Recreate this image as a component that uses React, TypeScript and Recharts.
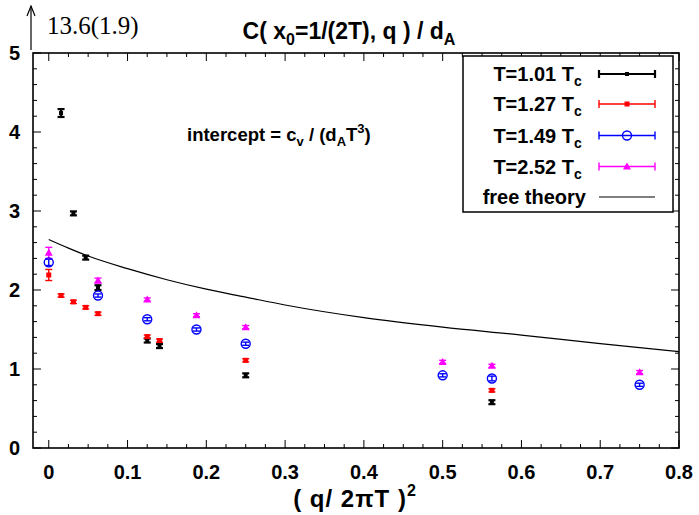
import React from "react"
import { ComposedChart, Scatter, Line, XAxis, YAxis, ErrorBar } from "recharts"

// (q / 2piT)^2 and C/d_A
const xT101 = [0.0156, 0.0313, 0.0469, 0.0625, 0.125, 0.1406, 0.25, 0.5625]
const yT101 = [4.24, 2.97, 2.41, 2.03, 1.36, 1.29, 0.92, 0.58]
const eT101 = [0.05, 0.025, 0.025, 0.03, 0.025, 0.025, 0.025, 0.025]

const xT127 = [0, 0.0156, 0.0313, 0.0469, 0.0625, 0.125, 0.1406, 0.25, 0.5625]
const yT127 = [2.19, 1.93, 1.85, 1.78, 1.7, 1.41, 1.36, 1.11, 0.73]
const eT127 = [0.07, 0.02, 0.02, 0.02, 0.02, 0.02, 0.02, 0.02, 0.02]

const xT149 = [0, 0.0625, 0.125, 0.1875, 0.25, 0.5, 0.5625, 0.75]
const yT149 = [2.35, 1.93, 1.63, 1.5, 1.32, 0.92, 0.88, 0.8]
const eT149 = [0.04, 0.02, 0.02, 0.02, 0.02, 0.02, 0.03, 0.02]

const xT252 = [0, 0.0625, 0.125, 0.1875, 0.25, 0.5, 0.5625, 0.75]
const yT252 = [2.47, 2.12, 1.88, 1.68, 1.53, 1.09, 1.04, 0.96]
const eT252 = [0.07, 0.03, 0.02, 0.02, 0.02, 0.02, 0.02, 0.02]

const xFree = [0, 0.025, 0.05, 0.1, 0.15, 0.2, 0.25, 0.3, 0.4, 0.5, 0.6, 0.7, 0.8]
const yFree = [2.64, 2.53, 2.43, 2.27, 2.13, 2.01, 1.91, 1.81, 1.65, 1.53, 1.43, 1.32, 1.22]

const xMajor = [0, 0.1, 0.2, 0.3, 0.4, 0.5, 0.6, 0.7, 0.8]
const yMajor = [0, 1, 2, 3, 4, 5]
const xMinorStep = 0.025
const yMinorStep = 0.2

const PLOT = { left: 33, right: 679, top: 53, bottom: 448 }
const FONT = "'Liberation Sans', Arial, Helvetica, sans-serif"

const zip = (xs: number[], ys: number[], es?: number[]) =>
  xs.map((x, i) => ({ x, y: ys[i], e: es ? es[i] : 0 }))

const xTicks: number[] = []
for (let v = 0; v <= 0.8 + 1e-9; v += xMinorStep) xTicks.push(+v.toFixed(4))
const yTicks: number[] = []
for (let v = 0; v <= 5 + 1e-9; v += yMinorStep) yTicks.push(+v.toFixed(4))

const isMajor = (v: number, list: number[]) => list.some((m) => Math.abs(m - v) < 1e-6)

// gnuplot style: ticks point inward and are mirrored on the opposite side
const XTick = (p: any) => {
  const v = p.payload.value
  const x = p.x
  const major = isMajor(v, xMajor)
  const len = major ? 8 : 4
  return (
    <g>
      <line x1={x} x2={x} y1={PLOT.bottom} y2={PLOT.bottom - len} stroke="#000" strokeWidth={1} />
      <line x1={x} x2={x} y1={PLOT.top} y2={PLOT.top + len} stroke="#000" strokeWidth={1} />
      {major && (
        <text x={x} y={479} textAnchor="middle" fontFamily={FONT} fontWeight="bold" fontSize={20} fill="#000">
          {v}
        </text>
      )}
    </g>
  )
}

const YTick = (p: any) => {
  const v = p.payload.value
  const y = p.y
  const major = isMajor(v, yMajor)
  const len = major ? 8 : 4
  return (
    <g>
      <line x1={PLOT.left} x2={PLOT.left + len} y1={y} y2={y} stroke="#000" strokeWidth={1} />
      <line x1={PLOT.right} x2={PLOT.right - len} y1={y} y2={y} stroke="#000" strokeWidth={1} />
      {major && (
        <text x={20} y={y + 7} textAnchor="end" fontFamily={FONT} fontWeight="bold" fontSize={20} fill="#000">
          {v}
        </text>
      )}
    </g>
  )
}

type Marker = "smallSquare" | "square" | "circle" | "triangle"

const drawMarker = (kind: Marker, color: string, cx: number, cy: number) => {
  if (kind === "smallSquare") return <rect x={cx - 2} y={cy - 2} width={4} height={4} fill={color} />
  if (kind === "square") return <rect x={cx - 2.5} y={cy - 2.5} width={5} height={5} fill={color} />
  if (kind === "circle") return <circle cx={cx} cy={cy} r={4.5} fill="none" stroke={color} strokeWidth={1.4} />
  return <polygon points={`${cx},${cy - 4} ${cx - 4},${cy + 3} ${cx + 4},${cy + 3}`} fill={color} />
}

const series = [
  { name: "T=1.01 T", color: "#000000", marker: "smallSquare" as Marker, barW: 2.2, data: zip(xT101, yT101, eT101) },
  { name: "T=1.27 T", color: "#ff0000", marker: "square" as Marker, barW: 1.4, data: zip(xT127, yT127, eT127) },
  { name: "T=1.49 T", color: "#0000ff", marker: "circle" as Marker, barW: 1.4, data: zip(xT149, yT149, eT149) },
  { name: "T=2.52 T", color: "#ff00ff", marker: "triangle" as Marker, barW: 1.4, data: zip(xT252, yT252, eT252) },
]

const freeData = zip(xFree, yFree)

const legendRows = [74, 104, 135.5, 166.5]

export default function App() {
  return (
    <div style={{ position: "relative", width: 699, height: 515, background: "#fff" }}>
      <style>{`body{margin:0;background:#fff}`}</style>
      <ComposedChart width={699} height={515} margin={{ top: 53, right: 20, bottom: 0, left: 0 }}>
        <XAxis
          type="number"
          dataKey="x"
          domain={[-0.02, 0.8]}
          allowDataOverflow
          ticks={xTicks}
          interval={0}
          tick={<XTick />}
          tickLine={false}
          axisLine={false}
          height={67}
        />
        <YAxis
          type="number"
          dataKey="y"
          domain={[0, 5]}
          allowDataOverflow
          ticks={yTicks}
          interval={0}
          tick={<YTick />}
          tickLine={false}
          axisLine={false}
          width={33}
        />
        <Line
          data={freeData}
          dataKey="y"
          type="monotone"
          dot={false}
          stroke="#000"
          strokeWidth={1.2}
          isAnimationActive={false}
        />
        {series.map((s) => (
          <Scatter
            key={s.name}
            name={s.name}
            data={s.data}
            dataKey="y"
            isAnimationActive={false}
            shape={(p: any) => drawMarker(s.marker, s.color, p.cx, p.cy)}
          >
            <ErrorBar dataKey="e" direction="y" width={3.5} stroke={s.color} strokeWidth={s.barW} />
          </Scatter>
        ))}
      </ComposedChart>
      <svg width={699} height={515} style={{ position: "absolute", left: 0, top: 0, pointerEvents: "none" }}>
        <rect
          x={PLOT.left}
          y={PLOT.top}
          width={PLOT.right - PLOT.left}
          height={PLOT.bottom - PLOT.top}
          fill="none"
          stroke="#000"
          strokeWidth={1.6}
        />
        <text x={349} y={39} textAnchor="middle" fontFamily={FONT} fontWeight="bold" fontSize={23} fill="#000">
          C( x<tspan fontSize={16} dy={6}>0</tspan>
          <tspan dy={-6}>=1/(2T), q ) / d</tspan>
          <tspan fontSize={16} dy={6}>A</tspan>
        </text>
        <line x1={31} x2={31} y1={50} y2={6} stroke="#000" strokeWidth={1.2} />
        <polyline points="27,16 31,6 35,16" fill="none" stroke="#000" strokeWidth={1.2} />
        <text x={47} y={34} fontFamily="'Liberation Serif', 'Times New Roman', serif" fontSize={25} fill="#000">
          13.6(1.9)
        </text>
        <text x={187} y={141} fontFamily={FONT} fontWeight="bold" fontSize={18.5} fill="#000">
          intercept = c<tspan fontSize={13} dy={5}>v</tspan>
          <tspan dy={-5}> / (d</tspan>
          <tspan fontSize={13} dy={5}>A</tspan>
          <tspan dy={-5}>T</tspan>
          <tspan fontSize={13} dy={-8}>3</tspan>
          <tspan dy={8}>)</tspan>
        </text>
        <text
          x={355}
          y={507}
          textAnchor="middle"
          fontFamily={FONT}
          fontWeight="bold"
          fontSize={24}
          letterSpacing={1}
          fill="#000"
        >
          ( q/ 2πT )<tspan fontSize={16} dy={-11}>2</tspan>
        </text>
        <rect x={463} y={56} width={210} height={156} fill="#fff" stroke="#000" strokeWidth={1.5} />
        {series.map((s, i) => {
          const cy = legendRows[i]
          return (
            <g key={s.name}>
              <text x={574} y={cy + 7} textAnchor="end" fontFamily={FONT} fontWeight="bold" fontSize={20} fill="#000">
                {s.name}
              </text>
              <text x={574} y={cy + 12} fontFamily={FONT} fontWeight="bold" fontSize={14} fill="#000">
                c
              </text>
              <line x1={599} x2={655} y1={cy} y2={cy} stroke={s.color} strokeWidth={s.barW} />
              <line x1={599} x2={599} y1={cy - 4} y2={cy + 4} stroke={s.color} strokeWidth={s.barW} />
              <line x1={655} x2={655} y1={cy - 4} y2={cy + 4} stroke={s.color} strokeWidth={s.barW} />
              {drawMarker(s.marker, s.color, 627, cy)}
            </g>
          )
        })}
        <text x={586} y={204} textAnchor="end" fontFamily={FONT} fontWeight="bold" fontSize={20} fill="#000">
          free theory
        </text>
        <line x1={599} x2={655} y1={197} y2={197} stroke="#000" strokeWidth={1.2} />
      </svg>
    </div>
  )
}
